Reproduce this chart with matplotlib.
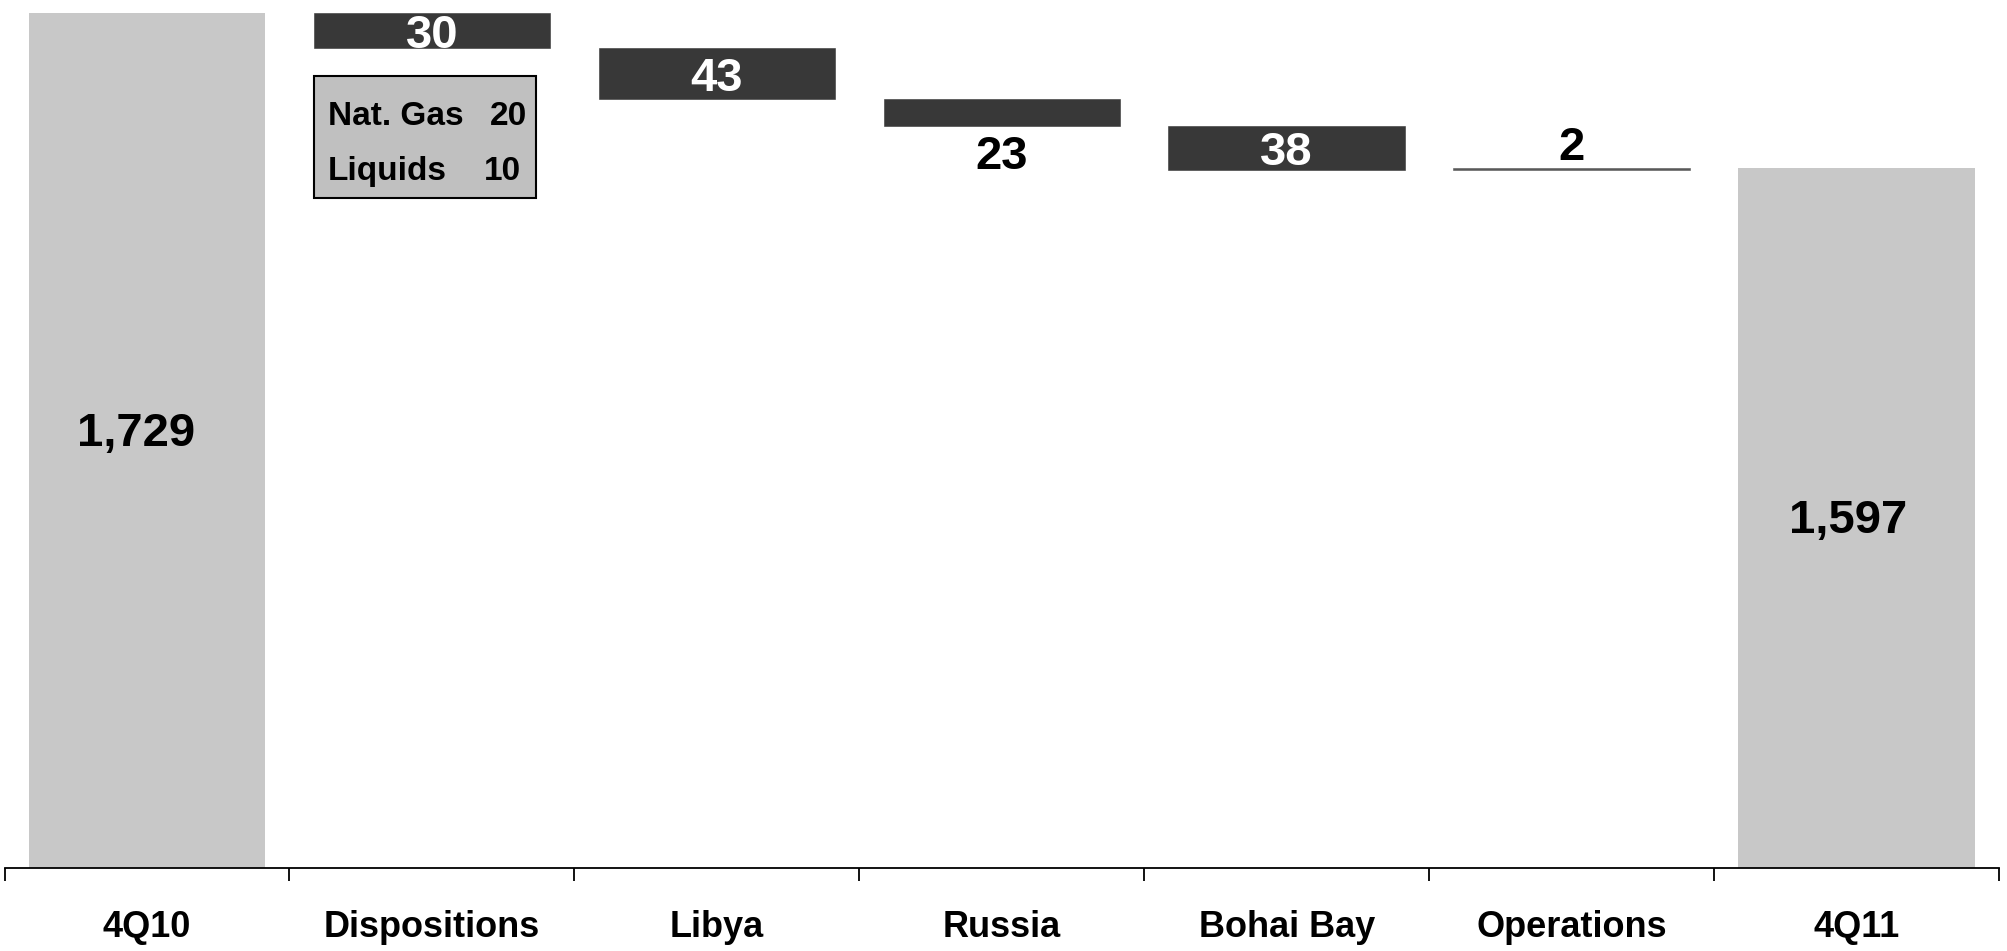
import matplotlib
matplotlib.use("Agg")
import matplotlib.pyplot as plt
import numpy as np
from matplotlib.patches import Rectangle

# ---- data ----
categories = ["4Q10", "Dispositions", "Libya", "Russia", "Bohai Bay", "Operations", "4Q11"]
start_value = 1729
end_value = 1597
changes = [-30, -43, -23, -38, 2]
change_labels = ["30", "43", "23", "38", "2"]
breakdown_names = ["Nat. Gas", "Liquids"]
breakdown_values = ["20", "10"]
axis_floor = 1000

# ---- styles ----
total_color = "#C8C8C8"
change_colors = ["#383838", "#383838", "#383838", "#383838", "#595959"]
label_place = ["in", "in", "below", "in", "above"]
FONT = "Liberation Sans"
plt.rcParams["font.family"] = [FONT, "DejaVu Sans"]
plt.rcParams["font.weight"] = "bold"

W, H = 2007, 951
fig = plt.figure(figsize=(W / 100, H / 100), dpi=100)
ax = fig.add_axes([4.5 / W, 83 / H, 1994.5 / W, 868 / H])
ax.set_xlim(-0.5, len(categories) - 0.5)
ax.set_ylim(axis_floor, 1740)

bw = 0.83
x = np.arange(len(categories))

# totals
ax.bar(x[0], start_value - axis_floor, bottom=axis_floor, width=bw, color=total_color, zorder=2)
ax.bar(x[-1], end_value - axis_floor, bottom=axis_floor, width=bw, color=total_color, zorder=2)
ax.annotate(f"{start_value:,}", (x[0] - 0.04, (start_value + axis_floor) / 2), xytext=(0, 5),
            textcoords="offset points", ha="center", va="center",
            fontsize=34, fontweight="bold", color="black", zorder=4)
ax.annotate(f"{end_value:,}", (x[-1] - 0.03, (end_value + axis_floor) / 2), xytext=(0, -2.5),
            textcoords="offset points", ha="center", va="center",
            fontsize=34, fontweight="bold", color="black", zorder=4)

# changes
level = start_value
for i, (d, lab) in enumerate(zip(changes, change_labels)):
    xi = x[i + 1]
    lo, hi = min(level, level + d), max(level, level + d)
    bars = ax.bar(xi, hi - lo, bottom=lo, width=bw, color=change_colors[i],
                  edgecolor=change_colors[i], linewidth=0.4, zorder=2)
    place = label_place[i]
    if place == "in":
        t = ax.annotate(lab, (xi, (lo + hi) / 2), xytext=(0, -4), textcoords="offset points",
                        ha="center", va="center", fontsize=34,
                        fontweight="bold", color="white", zorder=4)
        t.set_clip_path(bars[0])
    elif place == "below":
        ax.annotate(lab, (xi, lo), xytext=(0, -22.5), textcoords="offset points", ha="center",
                    va="center", fontsize=34, fontweight="bold", color="black", zorder=4)
    else:
        ax.annotate(lab, (xi, hi), xytext=(0, 14), textcoords="offset points", ha="center",
                    va="center", fontsize=34, fontweight="bold", color="black", zorder=4)
    level += d

# breakdown box (annotation) in axes fraction coords
def fx(px):
    return (px - 4.5) / 1994.5

def fy(py):
    return (868 - py) / 868

box = Rectangle((fx(314), fy(198)), fx(536) - fx(314), fy(76) - fy(198), transform=ax.transAxes,
                facecolor="#C0C0C0", edgecolor="black", linewidth=1.5, zorder=3)
ax.add_patch(box)
baselines = [125, 180]
rights = [527, 521]
for name, val, b, r in zip(breakdown_names, breakdown_values, baselines, rights):
    ax.text(fx(328), fy(b), name, transform=ax.transAxes, ha="left", va="baseline",
            fontsize=24, fontweight="bold", color="black", zorder=4)
    ax.text(fx(r), fy(b), val, transform=ax.transAxes, ha="right", va="baseline",
            fontsize=24, fontweight="bold", color="black", zorder=4)

# axes styling
for s in ["left", "right", "top"]:
    ax.spines[s].set_visible(False)
ax.spines["bottom"].set_linewidth(1.3)
ax.spines["bottom"].set_zorder(5)
ax.set_yticks([])
ax.set_xticks(x)
ax.set_xticklabels(categories, fontsize=26, fontweight="bold")
ax.set_xticks(np.arange(-0.5, len(categories)), minor=True)
ax.tick_params(axis="x", which="major", length=0, pad=30.5)
ax.tick_params(axis="x", which="minor", length=9.4, width=1.3, direction="out")

fig.savefig("out.png", dpi=100)
